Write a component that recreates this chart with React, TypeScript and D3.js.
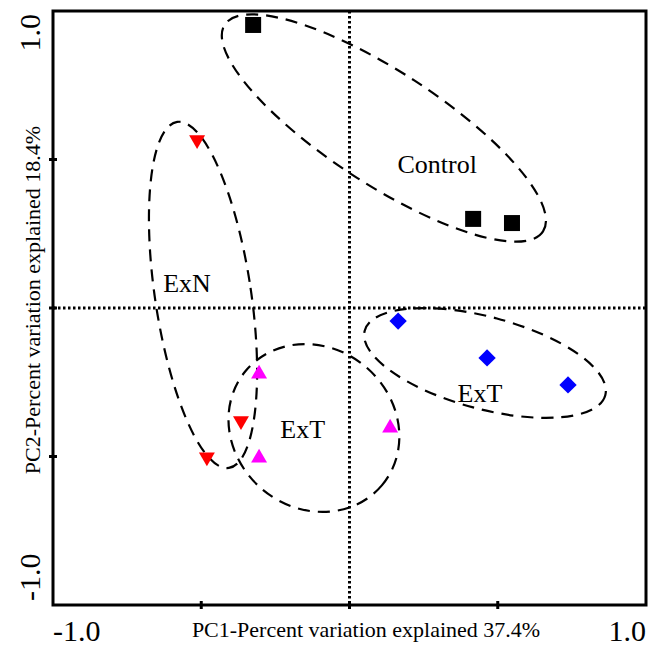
import React from "react";
import * as d3 from "d3";

const controlPts: [number, number][] = [[-0.325, 0.953], [0.417, 0.300], [0.548, 0.286]];
const exnPts: [number, number][] = [[-0.514, 0.566], [-0.366, -0.380], [-0.481, -0.502]];
const extMagentaPts: [number, number][] = [[-0.305, -0.222], [-0.305, -0.505], [0.137, -0.404]];
const extBluePts: [number, number][] = [[0.164, -0.044], [0.464, -0.168], [0.737, -0.259]];

const groupLabels = ["Control", "ExN", "ExT", "ExT"];
const labelPos: [number, number][] = [[0.296, 0.455], [-0.548, 0.054], [-0.158, -0.439], [0.44, -0.318]];

// ellipses: cx, cy, rx, ry (data units), rotation (deg)
const ellCx = [0.116, -0.494, -0.12, 0.457];
const ellCy = [0.606, 0.044, -0.404, -0.185];
const ellRx = [0.64, 0.162, 0.30, 0.42];
const ellRy = [0.19, 0.589, 0.27, 0.155];
const ellRot = [33, -8.5, 40, 15];

const xTickLabels = ["-1.0", "1.0"];
const yTickLabels = ["-1.0", "1.0"];
const tickVals = [-0.5, 0, 0.5];

const W = 659, H = 647;
const x = d3.scaleLinear().domain([-1, 1]).range([53, 646]);
const y = d3.scaleLinear().domain([-1, 1]).range([605, 11]);

const FONT = "'Liberation Serif', 'Times New Roman', serif";

export default function App() {
  const sq = 16;
  const tri = d3.symbol().type(d3.symbolTriangle).size(110);
  const dia = d3.symbol().type(d3.symbolSquare).size(150);
  return (
    <svg width={W} height={H} style={{ position: "absolute", left: 0, top: 0, background: "#fff" }} fontFamily={FONT}>
      {/* center dotted lines */}
      <line x1={x(0)} x2={x(0)} y1={y(1)} y2={y(-1)} stroke="#000" strokeWidth={3} strokeDasharray="2.5,2.5" />
      <line x1={x(-1)} x2={x(1)} y1={y(0)} y2={y(0)} stroke="#000" strokeWidth={3} strokeDasharray="2.5,2.5" />
      {/* ellipses */}
      {ellCx.map((cx, i) => (
        <ellipse key={i} cx={0} cy={0} rx={x(ellRx[i]) - x(0)} ry={y(0) - y(ellRy[i])}
          transform={`translate(${x(cx)},${y(ellCy[i])}) rotate(${ellRot[i]})`}
          fill="none" stroke="#000" strokeWidth={2.2} strokeDasharray="12,8" />
      ))}
      {/* frame */}
      <rect x={x(-1)} y={y(1)} width={x(1) - x(-1)} height={y(-1) - y(1)} fill="none" stroke="#000" strokeWidth={3} />
      {tickVals.map((t) => (
        <g key={t}>
          <line x1={x(t)} x2={x(t)} y1={y(-1) - 4} y2={y(-1) + 4} stroke="#000" strokeWidth={3} />
          <line x1={x(-1) - 4} x2={x(-1) + 4} y1={y(t)} y2={y(t)} stroke="#000" strokeWidth={3} />
        </g>
      ))}
      {/* tick labels */}
      <text x={x(-1)} y={641} fontSize={30} textAnchor="start">{xTickLabels[0]}</text>
      <text x={x(1)} y={641} fontSize={30} textAnchor="end">{xTickLabels[1]}</text>
      <text transform={`translate(40,${y(-1) - 4}) rotate(-90)`} fontSize={30} textAnchor="start">{yTickLabels[0]}</text>
      <text transform={`translate(40,${y(1) + 3}) rotate(-90)`} fontSize={30} textAnchor="end">{yTickLabels[1]}</text>
      {/* axis titles */}
      <text x={366} y={637} fontSize={22} textAnchor="middle">PC1-Percent variation explained 37.4%</text>
      <text transform={`translate(40,300) rotate(-90)`} fontSize={22} textAnchor="middle">PC2-Percent variation explained 18.4%</text>
      {/* points */}
      {controlPts.map((p, i) => (
        <rect key={"c" + i} x={x(p[0]) - sq / 2} y={y(p[1]) - sq / 2} width={sq} height={sq} fill="#000" />
      ))}
      {exnPts.map((p, i) => (
        <path key={"n" + i} d={tri() as string} transform={`translate(${x(p[0])},${y(p[1])}) rotate(180)`} fill="#ff0000" />
      ))}
      {extMagentaPts.map((p, i) => (
        <path key={"m" + i} d={tri() as string} transform={`translate(${x(p[0])},${y(p[1])})`} fill="#ff00ff" />
      ))}
      {extBluePts.map((p, i) => (
        <path key={"b" + i} d={dia() as string} transform={`translate(${x(p[0])},${y(p[1])}) rotate(45)`} fill="#0000ff" />
      ))}
      {/* group labels */}
      {groupLabels.map((l, i) => (
        <text key={"l" + i} x={x(labelPos[i][0])} y={y(labelPos[i][1])} fontSize={26} textAnchor="middle">{l}</text>
      ))}
    </svg>
  );
}
